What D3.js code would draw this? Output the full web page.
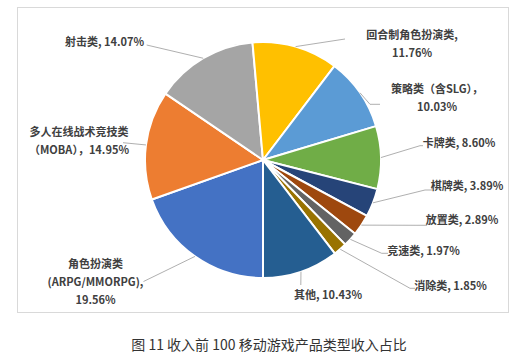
<!DOCTYPE html>
<html>
<head>
<meta charset="utf-8">
<script src="https://cdn.jsdelivr.net/npm/d3@7"></script>
<style>
  body { margin: 0; background: #fff; }
  svg { display: block; }
  text { font-family: "Noto Sans CJK SC", "Noto Sans", sans-serif; }
</style>
</head>
<body>
<div id="chart"></div>
<script>
// data, in the workbook's series order (first slice starts at 180deg)
var categories = ["角色扮演类", "多人在线战术竞技类", "射击类", "回合制角色扮演类", "策略类", "卡牌类",
                  "棋牌类", "放置类", "竞速类", "消除类", "其他"];
var shares = [19.56, 14.95, 14.07, 11.76, 10.03, 8.60, 3.89, 2.89, 1.97, 1.85, 10.43];
// label text lines (the last line carries the value)
var labelLines = [
    ["角色扮演类", "(ARPG/MMORPG),", "19.56%"],
    ["多人在线战术竞技类", "（MOBA），14.95%"],
    ["射击类, 14.07%"],
    ["回合制角色扮演类,", "11.76%"],
    ["策略类（含SLG），", "10.03%"],
    ["卡牌类, 8.60%"],
    ["棋牌类, 3.89%"],
    ["放置类, 2.89%"],
    ["竞速类, 1.97%"],
    ["消除类, 1.85%"],
    ["其他, 10.43%"]
];
var colors = ["#4472C4", "#ED7D31", "#A5A5A5", "#FFC000", "#5B9BD5", "#70AD47",
              "#264478", "#9E480E", "#636363", "#997300", "#255E91"];

// layout of the labels: centre x, first line centre y
var labelPos = [[95.5, 264], [79, 132], [104.5, 42.5], [412, 35], [437, 89], [459, 143.5],
                [467, 186], [462, 220], [423.5, 251], [450.5, 286], [328, 295]];
// leader line bends after the slice edge point
var leaderPts = [
    [[143.5, 281.5]],
    [[123, 142.7]],
    [[146.7, 45]],
    [[345, 39]],
    [[370, 104.3], [380, 104.3]],
    [[420, 145.7], [423, 145.7]],
    [[425, 190], [432, 190]],
    [[427, 225.3]],
    [[381.7, 253.3], [388, 253.3]],
    [[410, 288.3], [415, 288.3]],
    [[300.8, 285]]
];

var width = 523, height = 363;
var cx = 263, cy = 160, radius = 118;

var svg = d3.select('#chart').append('svg')
    .attr('width', width)
    .attr('height', height);

// chart area border
svg.append('rect')
    .attr('x', 17.5).attr('y', 7.5)
    .attr('width', 491).attr('height', 305)
    .attr('fill', '#fff')
    .attr('stroke', '#d9d9d9')
    .attr('stroke-width', 1);

var pie = d3.pie()
    .value(function (d) { return d; })
    .sort(null)
    .startAngle(Math.PI)
    .endAngle(Math.PI * 3);

var arcs = pie(shares);

var arc = d3.arc()
    .innerRadius(0)
    .outerRadius(radius);

var edge = d3.arc()
    .innerRadius(radius)
    .outerRadius(radius);

var g = svg.append('g')
    .attr('transform', 'translate(' + cx + ',' + cy + ')');

g.selectAll('path')
    .data(arcs)
    .enter()
    .append('path')
    .attr('d', arc)
    .attr('fill', function (d, i) { return colors[i]; })
    .attr('stroke', '#fff')
    .attr('stroke-width', 2)
    .attr('stroke-linejoin', 'round');

// leader lines from the slice edge at its mid angle
var line = d3.line();
svg.selectAll('path.leader')
    .data(arcs)
    .enter()
    .append('path')
    .attr('class', 'leader')
    .attr('fill', 'none')
    .attr('stroke', '#a6a6a6')
    .attr('stroke-width', 0.9)
    .attr('d', function (d, i) {
        var c = edge.centroid(d);
        var pts = [[cx + c[0], cy + c[1]]].concat(leaderPts[i]);
        return line(pts);
    });

// labels
var labels = svg.selectAll('text.lbl')
    .data(labelLines)
    .enter()
    .append('text')
    .attr('class', 'lbl')
    .attr('text-anchor', 'middle')
    .attr('fill', '#404040')
    .style('font-size', '11px')
    .style('font-weight', 'bold');

labels.each(function (lines, i) {
    var t = d3.select(this);
    lines.forEach(function (s, k) {
        t.append('tspan')
            .attr('x', labelPos[i][0])
            .attr('y', labelPos[i][1] + k * 18.3)
            .attr('dy', '0.35em')
            .text(s);
    });
});

// caption
svg.append('text')
    .attr('x', 269)
    .attr('y', 345)
    .attr('dy', '0.35em')
    .attr('text-anchor', 'middle')
    .attr('fill', '#333')
    .style('font-size', '14px')
    .text('图 11 收入前 100 移动游戏产品类型收入占比');
</script>
</body>
</html>
